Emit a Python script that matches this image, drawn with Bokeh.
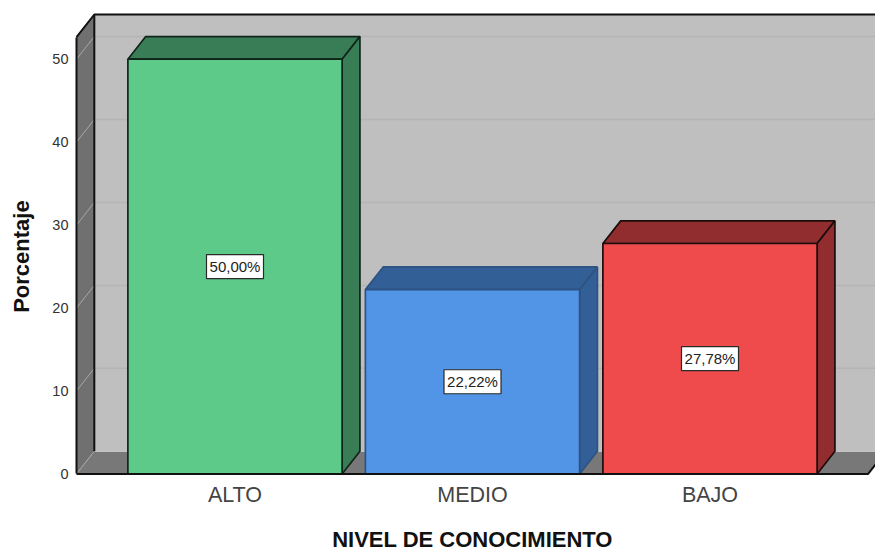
import math

from bokeh.core.properties import value
from bokeh.embed import file_html
from bokeh.models import FixedTicker, Range1d
from bokeh.plotting import figure
from bokeh.resources import INLINE

categories = ["ALTO", "MEDIO", "BAJO"]
percentages = [50.00, 22.22, 27.78]
labels = ["50,00%", "22,22%", "27,78%"]
front_colors = ["#5dca8a", "#5294e6", "#ef4b4d"]
shade_colors = ["#387d56", "#335f97", "#912d2f"]
edge_colors = ["#10251a", "#2f5282", "#1c0c0c"]
y_ticks = [0, 10, 20, 30, 40, 50]

FONT = "Liberation Sans"
BAR_WIDTH = 0.902
DEPTH_X = 0.075
DEPTH_Y = 2.73
WALL_TOP = 55.39
WALL_LEFT = -0.6674
X_START, X_END = -0.98737, 2.69684
Y_START, Y_END = -9.356, 57.078
FLOOR_END = 2.666
EDGE = "#111111"

# The frame fills the whole page; axes are pinned at the box's own corner
p = figure(
    width=875, height=551, min_border=0,
    x_range=Range1d(X_START, X_END), y_range=Range1d(Y_START, Y_END),
    output_backend="svg", toolbar_location=None,
)
p.outline_line_color = None
p.background_fill_color = "white"
p.grid.visible = False

# Box walls: back, left side and floor
left_back = WALL_LEFT + DEPTH_X
right_far = X_END + 0.2
p.patch([left_back, right_far, right_far, left_back],
        [DEPTH_Y, DEPTH_Y, WALL_TOP, WALL_TOP], color="#bfbfbf", line_color=None)
p.patch([WALL_LEFT, left_back, left_back, WALL_LEFT],
        [0, DEPTH_Y, WALL_TOP, WALL_TOP - DEPTH_Y], color="#707070", line_color=None)
p.patch([WALL_LEFT, FLOOR_END, FLOOR_END + DEPTH_X, left_back],
        [0, 0, DEPTH_Y, DEPTH_Y], color="#787878", line_color=None)

# Gridlines run across the back wall and fold down the side wall
for t in y_ticks:
    color = "#b4b4b4" if t else "#c4c4c4"
    p.line([left_back, right_far], [t + DEPTH_Y, t + DEPTH_Y], line_color=color, line_width=1.5)
    p.line([WALL_LEFT, left_back], [t, t + DEPTH_Y], line_color="#a8a8a8", line_width=1)

# Upper box edges
p.line([left_back, left_back], [DEPTH_Y, WALL_TOP], line_color=EDGE, line_width=2)
p.line([WALL_LEFT, left_back, right_far], [WALL_TOP - DEPTH_Y, WALL_TOP, WALL_TOP],
       line_color=EDGE, line_width=2)

# Bars: front face, top face and right side face
for i, v in enumerate(percentages):
    x0, x1 = i - BAR_WIDTH / 2, i + BAR_WIDTH / 2
    p.patch([x0, x0 + DEPTH_X, x1 + DEPTH_X, x1], [v, v + DEPTH_Y, v + DEPTH_Y, v],
            fill_color=shade_colors[i], line_color=edge_colors[i], line_width=1.7)
    p.patch([x1, x1 + DEPTH_X, x1 + DEPTH_X, x1], [0, DEPTH_Y, v + DEPTH_Y, v],
            fill_color=shade_colors[i], line_color=edge_colors[i], line_width=1.7)
    p.quad(left=x0, right=x1, bottom=0, top=v,
           fill_color=front_colors[i], line_color=edge_colors[i], line_width=1.7)

# The front floor edge runs unbroken under all the bars
p.line([WALL_LEFT, FLOOR_END, FLOOR_END + DEPTH_X], [0, 0, DEPTH_Y], line_color=EDGE, line_width=2)

# Value labels in boxes at mid height of each bar
xs = list(range(len(categories)))
mids = [v / 2 for v in percentages]
p.rect(xs, mids, width=57, height=24, width_units="screen", height_units="screen",
       fill_color="white", line_color="#2a2a2a", line_width=1.2)
p.text(xs, mids, text=labels, text_align="center", text_baseline="middle",
       text_font=value(FONT), text_font_size="15px", text_color="#222222")

p.xaxis.fixed_location = 0
p.xaxis.ticker = FixedTicker(ticks=xs)
p.xaxis.major_label_overrides = {i: c for i, c in enumerate(categories)}
p.xaxis.major_label_text_font = FONT
p.xaxis.major_label_text_font_size = "21.5px"
p.xaxis.major_label_text_color = "#444444"
p.xaxis.major_label_standoff = 3
p.xaxis.axis_line_color = None
p.xaxis.major_tick_line_color = None
p.xaxis.minor_tick_line_color = None

p.yaxis.fixed_location = WALL_LEFT
p.yaxis.ticker = FixedTicker(ticks=y_ticks)
p.yaxis.bounds = (0, WALL_TOP - DEPTH_Y)
p.yaxis.major_label_text_font = FONT
p.yaxis.major_label_text_font_size = "14.5px"
p.yaxis.major_label_text_color = "#333333"
p.yaxis.major_label_standoff = 2
p.yaxis.axis_line_color = EDGE
p.yaxis.axis_line_width = 2
p.yaxis.major_tick_line_color = None
p.yaxis.minor_tick_line_color = None

# Axis titles
p.text([1.0], [-7.95], text=["NIVEL DE CONOCIMIENTO"], text_align="center", text_baseline="middle",
       text_font=value(FONT), text_font_size="22px", text_font_style="bold", text_color="#111111")
p.text([-0.899], [26.2], text=["Porcentaje"], angle=math.pi / 2,
       text_align="center", text_baseline="middle",
       text_font=value(FONT), text_font_size="22px", text_font_style="bold", text_color="#111111")

open("out.html", "w").write(file_html(p, INLINE))
